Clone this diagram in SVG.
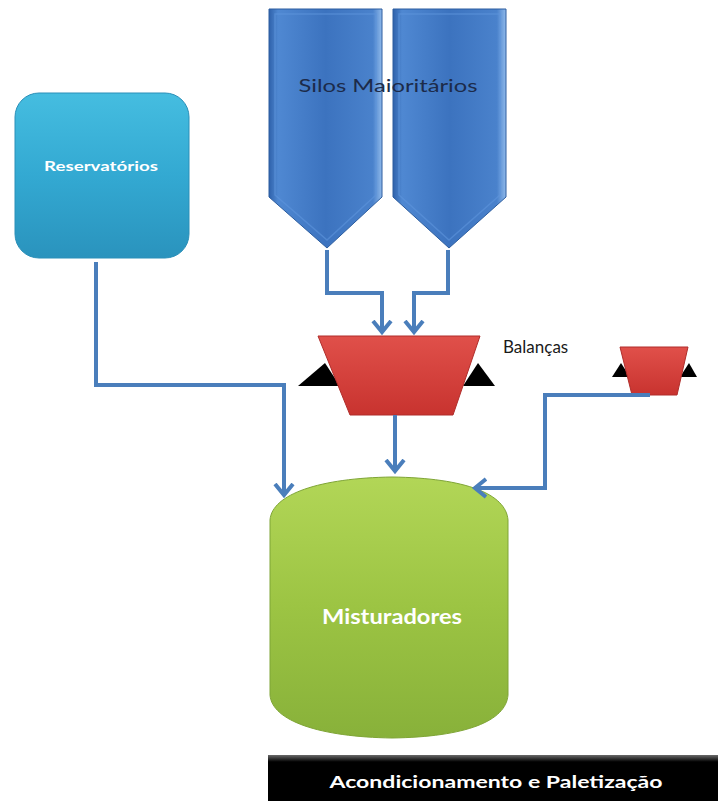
<svg xmlns="http://www.w3.org/2000/svg" width="718" height="801" viewBox="0 0 718 801">
<defs>
<style>
.conn{fill:none;stroke:#4a7ebb;stroke-width:4;stroke-linejoin:miter}
.lbl{font-family:Lato,"Open Sans","Liberation Sans",sans-serif}
</style>
<marker id="arr" markerUnits="userSpaceOnUse" markerWidth="24" markerHeight="24" viewBox="-12 -12 24 24" refX="0" refY="0" orient="auto">
<path d="M-11,-9 L0,0 L-11,9" fill="none" stroke="#4a7ebb" stroke-width="4"/>
</marker>
<linearGradient id="gSilo" x1="0" y1="0" x2="1" y2="0">
<stop offset="0" stop-color="#2f62ab"/>
<stop offset="0.08" stop-color="#4f88d2"/>
<stop offset="0.5" stop-color="#3c73bf"/>
<stop offset="0.92" stop-color="#4a82cc"/>
<stop offset="1" stop-color="#8fb9ea"/>
</linearGradient>
<linearGradient id="gRes" x1="0" y1="0" x2="0" y2="1">
<stop offset="0" stop-color="#45bde0"/>
<stop offset="0.5" stop-color="#33a9d2"/>
<stop offset="1" stop-color="#2a93bd"/>
</linearGradient>
<linearGradient id="gRed" x1="0" y1="0" x2="0" y2="1">
<stop offset="0" stop-color="#e0504a"/>
<stop offset="1" stop-color="#c8332f"/>
</linearGradient>
<linearGradient id="gGreen" x1="0" y1="0" x2="0" y2="1">
<stop offset="0" stop-color="#b2d657"/>
<stop offset="0.5" stop-color="#9cc443"/>
<stop offset="1" stop-color="#88b13a"/>
</linearGradient>
<linearGradient id="gBar" x1="0" y1="0" x2="0" y2="1">
<stop offset="0" stop-color="#6a6a6a"/>
<stop offset="0.15" stop-color="#000"/>
<stop offset="1" stop-color="#000"/>
</linearGradient>
</defs>
<rect width="718" height="801" fill="#fff"/>

<g id="silo-left">
<path d="M269,9 L382,9 L382,197 L327,248 L269,197 Z" fill="url(#gSilo)" stroke="#2c5d9f" stroke-width="1"/>
<path d="M275,14 L376,14 L376,195 L327,240 L275,195 Z" fill="none" stroke="#5d95dc" stroke-width="1.5" opacity="0.6"/>
</g>
<g id="silo-right">
<path d="M393,9 L506,9 L506,197 L449,248 L393,197 Z" fill="url(#gSilo)" stroke="#2c5d9f" stroke-width="1"/>
<path d="M399,14 L500,14 L500,195 L449,240 L399,195 Z" fill="none" stroke="#5d95dc" stroke-width="1.5" opacity="0.6"/>
</g>
<text class="lbl" x="388" y="92" font-size="18" fill="#1c2b4a" text-anchor="middle" textLength="179" lengthAdjust="spacingAndGlyphs">Silos Maioritários</text>

<g id="reservatorios">
<rect x="15" y="93" width="174" height="165" rx="24" ry="24" fill="url(#gRes)" stroke="#2a8fb8" stroke-width="1"/>
<text class="lbl" x="101" y="171" font-size="14" font-weight="bold" fill="#fff" text-anchor="middle" textLength="114" lengthAdjust="spacingAndGlyphs">Reservatórios</text>
</g>

<g id="balanca-grande">
<polygon points="298,386 325,363 340,386" fill="#000"/>
<polygon points="463,386 478,363 495,386" fill="#000"/>
<polygon points="318,336 480,336 453,415 350,415" fill="url(#gRed)" stroke="#b02d2a" stroke-width="1"/>
</g>
<text class="lbl" x="503" y="353" font-size="17" fill="#1a1a1a">Balanças</text>

<g id="balanca-pequena">
<polygon points="612,377 621,363 630,377" fill="#000"/>
<polygon points="680,377 689,363 697,377" fill="#000"/>
<polygon points="620,347 688,347 677,395 632,395" fill="url(#gRed)" stroke="#b02d2a" stroke-width="1"/>
</g>

<g id="misturadores">
<path d="M270,520 C272,494 320,478 392,477 C466,478 506,494 508,520 L508,695 C506,721 466,737 392,738 C320,737 272,721 270,695 Z" fill="url(#gGreen)" stroke="#7fa536" stroke-width="1"/>
<text class="lbl" x="392" y="624" font-size="21" font-weight="bold" fill="#fff" text-anchor="middle" textLength="140" lengthAdjust="spacingAndGlyphs">Misturadores</text>
</g>

<g id="acondicionamento">
<rect x="268" y="755" width="450" height="46" fill="url(#gBar)"/>
<text class="lbl" x="496" y="788" font-size="17" font-weight="bold" fill="#fff" text-anchor="middle" textLength="333" lengthAdjust="spacingAndGlyphs">Acondicionamento e Paletização</text>
</g>

<g id="connectors">
<path class="conn" d="M327,250 L327,293 L382,293 L382,332" marker-end="url(#arr)"/>
<path class="conn" d="M448,250 L448,293 L414,293 L414,332" marker-end="url(#arr)"/>
<path class="conn" d="M96,262 L96,385 L284,385 L284,495" marker-end="url(#arr)"/>
<path class="conn" d="M395,415 L395,471" marker-end="url(#arr)"/>
<path class="conn" d="M650,395 L545,395 L545,488 L475,488" marker-end="url(#arr)"/>
</g>
</svg>
